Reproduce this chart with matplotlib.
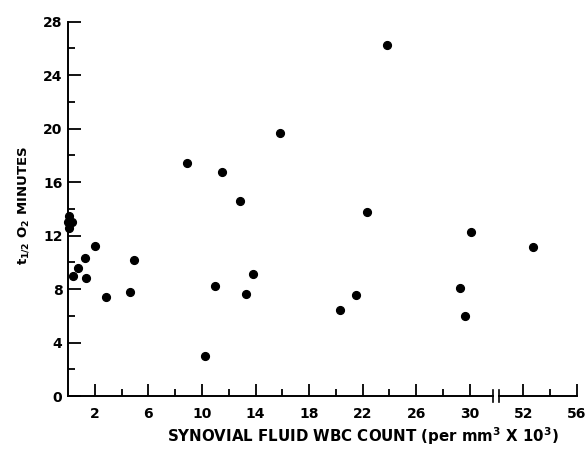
import matplotlib
matplotlib.use('Agg')
import matplotlib.pyplot as plt

# WBC count (x 10^3 per mm^3) and O2 half-time (minutes)
wbc = [0.1, 0.0, 0.3, 0.1, 0.35, 0.75, 1.25, 1.35, 2.05, 2.8, 4.65, 4.9,
       8.85, 10.2, 10.95, 11.5, 12.85, 13.3, 13.8, 15.8, 20.3, 21.5, 22.35,
       23.85, 29.25, 29.65, 30.1, 52.7]
t_half = [13.45, 13.0, 13.0, 12.6, 9.0, 9.6, 10.3, 8.85, 11.2, 7.4, 7.8, 10.15,
          17.4, 3.0, 8.25, 16.75, 14.6, 7.65, 9.15, 19.7, 6.45, 7.55, 13.8,
          26.25, 8.05, 5.95, 12.3, 11.15]

x_major = [2, 6, 10, 14, 18, 22, 26, 30, 52, 56]
x_minor = [4, 8, 12, 16, 20, 24, 28, 54]
y_major = [0, 4, 8, 12, 16, 20, 24, 28]
y_minor = [2, 6, 10, 14, 18, 22, 26]

# the axis is broken between 32 and 50
def brk(v):
    return v if v <= 32 else v - 18

plt.rcParams['font.family'] = 'DejaVu Sans'
plt.rcParams['font.weight'] = 'bold'

fig = plt.figure(figsize=(5.87, 4.49), dpi=100)
ax = fig.add_axes([68 / 587, 53 / 449, 509 / 587, 374.3 / 449])

ax.plot([brk(v) for v in wbc], t_half, 'o', color='black', markersize=5.6,
        clip_on=False)

ax.set_xlim(0, 38)
ax.set_ylim(0, 28)

for s in ['top', 'right', 'bottom']:
    ax.spines[s].set_visible(False)
ax.spines['left'].set_linewidth(1.4)

# bottom axis drawn in two pieces with break marks
lw = 1.4
xt = ax.get_xaxis_transform()
ax.plot([0, 31.75], [0, 0], color='black', lw=lw, transform=xt, clip_on=False)
ax.plot([32.2, 38], [0, 0], color='black', lw=lw, transform=xt, clip_on=False)
for bx in [31.75, 32.2]:
    ax.plot([bx, bx], [-0.016, 0.016], color='black', lw=1.2, transform=xt,
            clip_on=False)

ax.set_xticks([brk(v) for v in x_major])
ax.set_xticklabels([str(v) for v in x_major])
ax.set_xticks([brk(v) for v in x_minor], minor=True)
ax.set_yticks(y_major)
ax.set_yticks(y_minor, minor=True)

ax.tick_params(which='both', direction='in', width=1.3, labelsize=10)
ax.tick_params(which='major', length=9)
ax.tick_params(which='minor', length=5)
ax.tick_params(axis='x', pad=8)
ax.tick_params(axis='y', pad=4)

fig.text(363 / 587, 13 / 449, r'SYNOVIAL FLUID WBC COUNT (per mm$^\mathbf{3}$ X 10$^\mathbf{3}$)',
         ha='center', va='center', fontsize=10.8)
fig.text(24 / 587, 243 / 449, r'$\mathregular{t_{1/2}\ O_2}$ MINUTES',
         ha='center', va='center', rotation=90, fontsize=9.5)

fig.savefig('out.png', dpi=100)
